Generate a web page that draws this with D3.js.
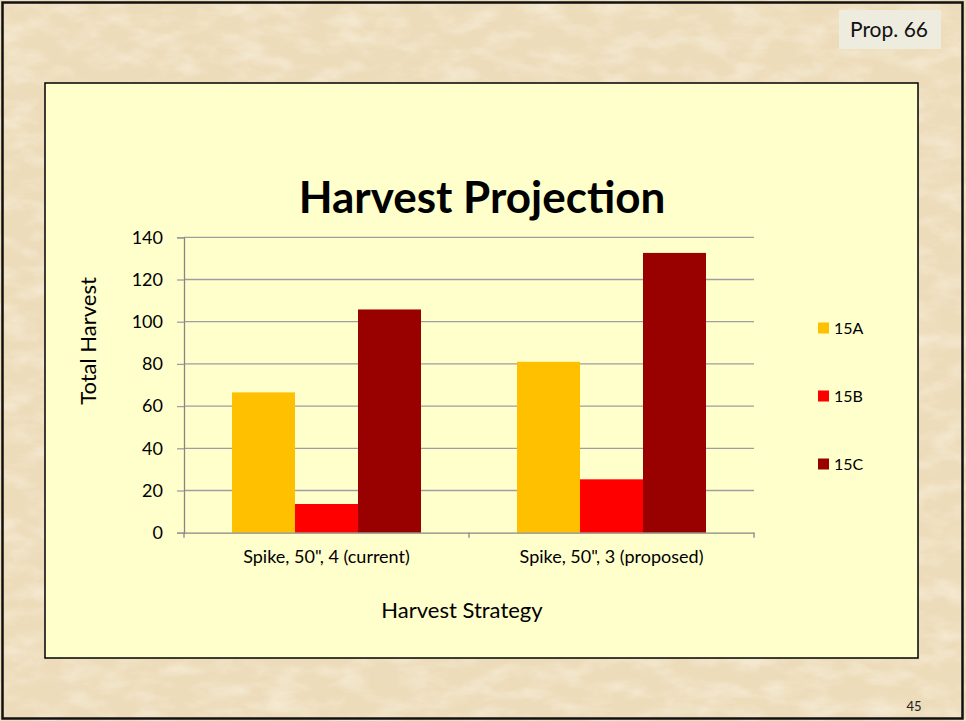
<!DOCTYPE html>
<html>
<head>
<meta charset="utf-8">
<script src="https://cdn.jsdelivr.net/npm/d3@7"></script>
<style>
  body { margin: 0; background: #fff; }
  text { font-family: Lato, "Open Sans", sans-serif; fill: #000; }
</style>
</head>
<body>
<svg class="slide"></svg>
<script>
// chart values
var categories = ['Spike, 50", 4 (current)', 'Spike, 50", 3 (proposed)'];
var seriesNames = ["15A", "15B", "15C"];
var values15A = [66.5, 81];
var values15B = [13.6, 25.3];
var values15C = [105.8, 132.6];
var yTicks = [0, 20, 40, 60, 80, 100, 120, 140];

var colors = ["#FFC000", "#FF0000", "#990000"];

var W = 966, H = 721;
var plot = {left: 184, right: 754, top: 237.3, bottom: 532.7};

var svg = d3.select(".slide")
  .attr("width", W)
  .attr("height", H);

// parchment background: light base with fine mottling
var defs = svg.append("defs");
var f1 = defs.append("filter").attr("id", "paperLight")
  .attr("x", 0).attr("y", 0).attr("width", "100%").attr("height", "100%");
f1.append("feTurbulence").attr("type", "fractalNoise")
  .attr("baseFrequency", "0.03 0.06").attr("numOctaves", 4).attr("seed", 7);
f1.append("feColorMatrix").attr("type", "matrix")
  .attr("values", "0 0 0 0 0.96  0 0 0 0 0.91  0 0 0 0 0.80  1.1 0 0 0 -0.45");
var f2 = defs.append("filter").attr("id", "paperDark")
  .attr("x", 0).attr("y", 0).attr("width", "100%").attr("height", "100%");
f2.append("feTurbulence").attr("type", "fractalNoise")
  .attr("baseFrequency", "0.025 0.05").attr("numOctaves", 4).attr("seed", 21);
f2.append("feColorMatrix").attr("type", "matrix")
  .attr("values", "0 0 0 0 0.86  0 0 0 0 0.73  0 0 0 0 0.52  1.1 0 0 0 -0.6");

svg.append("rect").attr("width", W).attr("height", H).attr("fill", "#EDDCBA");
svg.append("rect").attr("width", W).attr("height", H).attr("filter", "url(#paperDark)");
svg.append("rect").attr("width", W).attr("height", H).attr("filter", "url(#paperLight)");

// slide border
svg.append("rect")
  .attr("x", 2.5).attr("y", 2.5)
  .attr("width", 960).attr("height", 716)
  .attr("fill", "none")
  .attr("stroke", "#111")
  .attr("stroke-width", 2.5);

// "Prop. 66" tag
svg.append("rect")
  .attr("x", 839).attr("y", 10)
  .attr("width", 102).attr("height", 39)
  .attr("fill", "#EEEBDF");
svg.append("text")
  .attr("x", 889).attr("y", 37)
  .attr("text-anchor", "middle")
  .style("font-size", "21px")
  .style("fill", "#111")
  .text("Prop. 66");

// page number
svg.append("text")
  .attr("x", 914).attr("y", 711)
  .attr("text-anchor", "middle")
  .style("font-size", "13px")
  .style("fill", "#222")
  .text("45");

// chart panel
svg.append("rect")
  .attr("x", 45).attr("y", 83)
  .attr("width", 873).attr("height", 575)
  .attr("fill", "#FFFFCC")
  .attr("stroke", "#000")
  .attr("stroke-width", 1.5);

svg.append("text")
  .attr("x", 482).attr("y", 213)
  .attr("text-anchor", "middle")
  .style("font-size", "44px")
  .style("font-weight", "bold")
  .text("Harvest Projection");

var x0 = d3.scaleBand()
  .domain(categories)
  .range([plot.left, plot.right]);

var x1 = d3.scaleBand()
  .domain(seriesNames)
  .range([0, x0.bandwidth()])
  .paddingOuter(0.762);

var y = d3.scaleLinear()
  .domain([0, 140])
  .range([plot.bottom, plot.top]);

// gridlines
svg.append("g")
  .attr("class", "grid")
  .selectAll("line")
  .data(yTicks.slice(1))
  .enter().append("line")
  .attr("x1", plot.left).attr("x2", plot.right)
  .attr("y1", function(d) { return y(d); })
  .attr("y2", function(d) { return y(d); })
  .attr("stroke", "#9E9E9E")
  .attr("stroke-width", 1.3);

// bars
var seriesValues = [values15A, values15B, values15C];
var group = svg.selectAll(".cat")
  .data(categories)
  .enter().append("g")
  .attr("class", "cat")
  .attr("transform", function(d) { return "translate(" + x0(d) + ",0)"; });

group.selectAll("rect")
  .data(function(d, i) {
    return seriesNames.map(function(s, j) { return {series: s, value: seriesValues[j][i], k: j}; });
  })
  .enter().append("rect")
  .attr("x", function(d) { return x1(d.series); })
  .attr("width", x1.bandwidth())
  .attr("y", function(d) { return y(d.value); })
  .attr("height", function(d) { return plot.bottom - y(d.value); })
  .attr("fill", function(d) { return colors[d.k]; });

// y axis
var yAxis = d3.axisLeft(y)
  .tickValues(yTicks)
  .tickSize(7)
  .tickPadding(14);

var gy = svg.append("g")
  .attr("transform", "translate(" + plot.left + ",0)")
  .call(yAxis);
gy.select(".domain").attr("stroke", "#868686").attr("stroke-width", 1.3);
gy.selectAll(".tick line").attr("stroke", "#9E9E9E").attr("stroke-width", 1.3);
gy.selectAll(".tick text")
  .style("font-size", "18px")
  .style("font-family", "Lato, sans-serif")
  .attr("fill", "#000");

// x axis: ticks sit on band boundaries
var xAxis = d3.axisBottom(x0).tickSize(0).tickPadding(18);
var gx = svg.append("g")
  .attr("transform", "translate(0," + plot.bottom + ")")
  .call(xAxis);
gx.select(".domain").attr("stroke", "#868686").attr("stroke-width", 1.3);
gx.selectAll(".tick text")
  .style("font-size", "18px")
  .style("font-family", "Lato, sans-serif")
  .attr("fill", "#000");

var bounds = [plot.left].concat(categories.map(function(c) { return x0(c) + x0.bandwidth(); }));
gx.selectAll(".bound")
  .data(bounds)
  .enter().append("line")
  .attr("class", "bound")
  .attr("x1", function(d) { return d; }).attr("x2", function(d) { return d; })
  .attr("y1", 0).attr("y2", 5)
  .attr("stroke", "#868686")
  .attr("stroke-width", 1.3);

// axis titles
svg.append("text")
  .attr("transform", "translate(96,341) rotate(-90)")
  .attr("text-anchor", "middle")
  .style("font-size", "22px")
  .text("Total Harvest");

svg.append("text")
  .attr("x", 462)
  .attr("y", 618)
  .attr("text-anchor", "middle")
  .style("font-size", "22px")
  .text("Harvest Strategy");

// legend
var legend = svg.selectAll(".legend")
  .data(seriesNames)
  .enter().append("g")
  .attr("class", "legend")
  .attr("transform", function(d, i) { return "translate(818," + (328 + i * 68) + ")"; });

legend.append("rect")
  .attr("x", 0).attr("y", -5.5)
  .attr("width", 11).attr("height", 11)
  .attr("fill", function(d, i) { return colors[i]; });

legend.append("text")
  .attr("x", 16).attr("y", 6)
  .style("font-size", "16px")
  .text(function(d) { return d; });
</script>
</body>
</html>
